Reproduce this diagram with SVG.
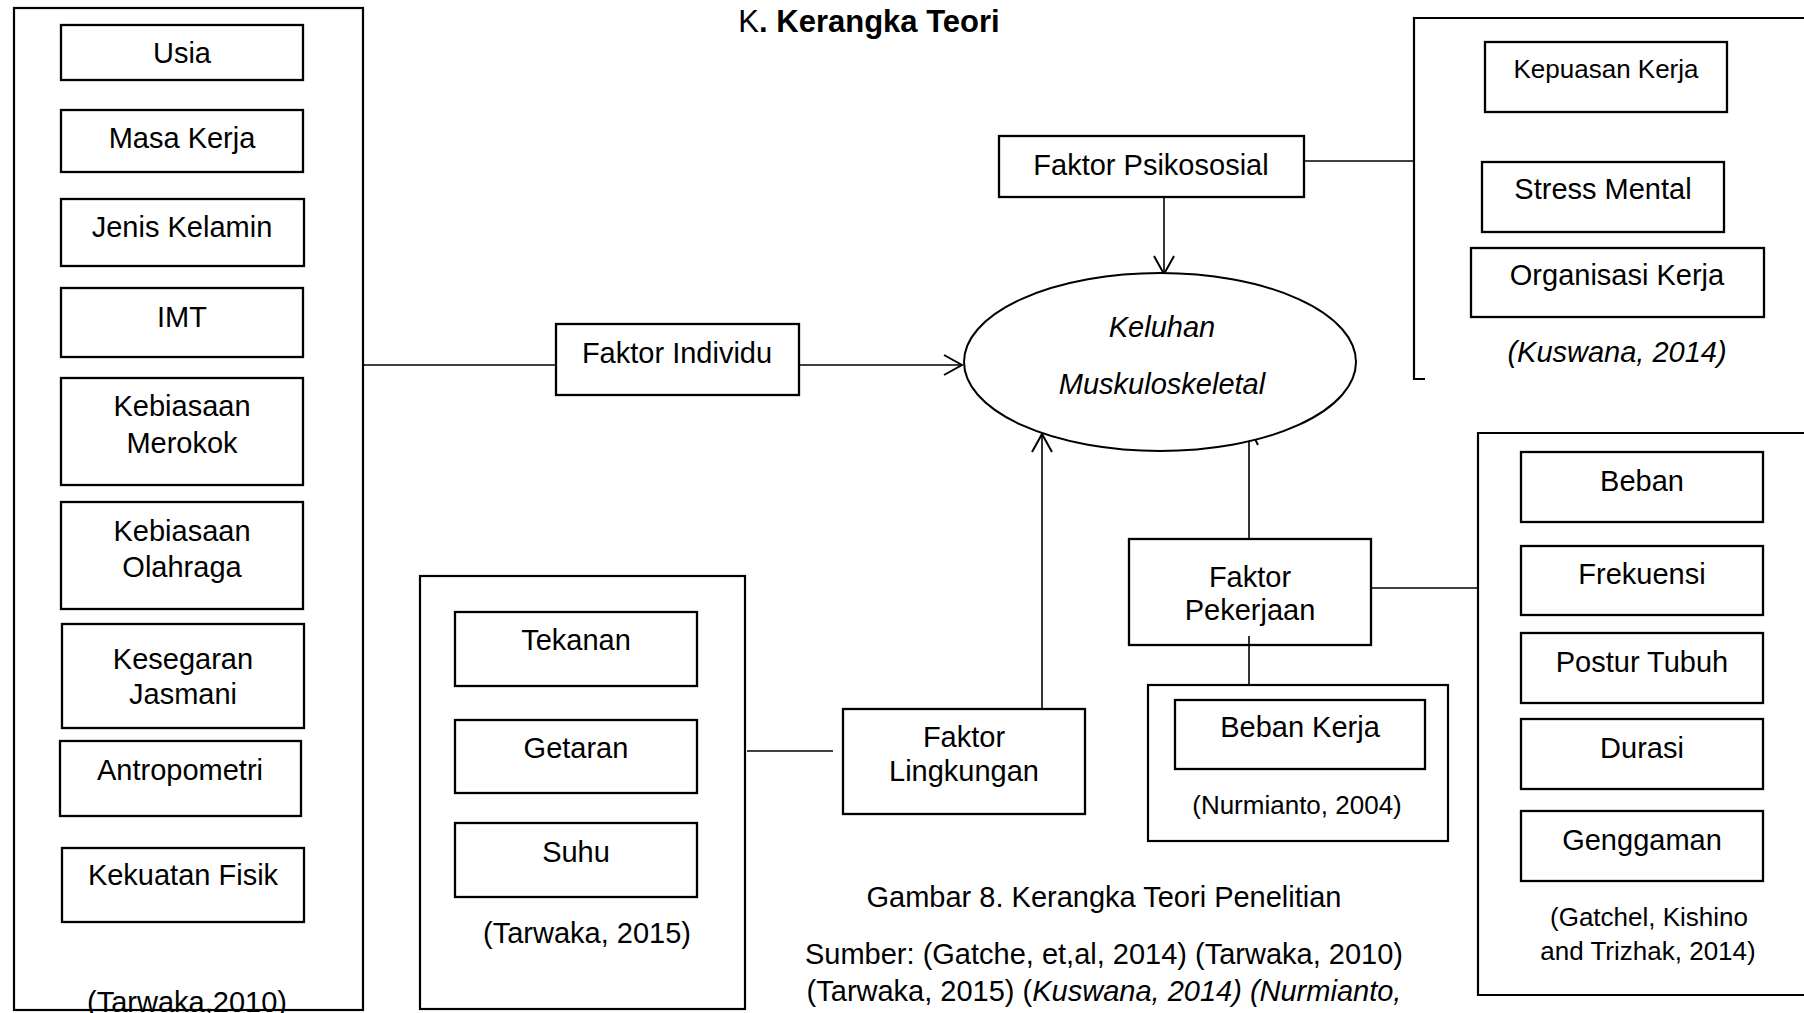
<svg xmlns="http://www.w3.org/2000/svg" width="1804" height="1013" viewBox="0 0 1804 1013">
<defs>
<style>
.bx{fill:#fff;stroke:#000;stroke-width:2.3}
.ct{fill:none;stroke:#000;stroke-width:2.2}
.ln{fill:none;stroke:#000;stroke-width:1.6}
.t{font-family:"Liberation Sans",Arial,sans-serif;font-size:29px;fill:#000;text-anchor:middle}
.s{font-size:26px}
.i{font-style:italic}
</style>
<marker id="ah" markerUnits="userSpaceOnUse" markerWidth="22" markerHeight="24" refX="20" refY="12" orient="auto">
<path d="M2,2 L20,12 L2,22" fill="none" stroke="#000" stroke-width="2"/>
</marker>
</defs>
<rect width="1804" height="1013" fill="#fff"/>
<text class="t" x="869" y="32" style="font-size:31px"><tspan>K</tspan><tspan font-weight="bold">. Kerangka Teori</tspan></text>

<g id="connectors">
<line class="ln" x1="363" y1="365" x2="556" y2="365"/>
<line class="ln" x1="799" y1="365" x2="962" y2="365" stroke-width="2.2" marker-end="url(#ah)"/>
<line class="ln" x1="1164" y1="197" x2="1164" y2="274" marker-end="url(#ah)"/>
<line class="ln" x1="1304" y1="161" x2="1414" y2="161"/>
<line class="ln" x1="1042" y1="709" x2="1042" y2="434" stroke-width="2" marker-end="url(#ah)"/>
<line class="ln" x1="747" y1="751" x2="833" y2="751"/>
<line class="ln" x1="1249" y1="539" x2="1249" y2="441" stroke-width="2"/>
<path d="M1255,439 L1258,445" fill="none" stroke="#000" stroke-width="2"/>
<line class="ln" x1="1249" y1="636" x2="1249" y2="685"/>
<line class="ln" x1="1371" y1="588" x2="1478" y2="588"/>
</g>

<g id="individu-group">
<text class="t" x="187" y="1012">(Tarwaka,2010)</text>
<rect class="ct" x="14" y="8" width="349" height="1002" fill="none"/>
</g>
<g id="usia"><rect class="bx" x="61" y="25" width="242" height="55"/><text class="t" x="182" y="63">Usia</text></g>
<g id="masa-kerja"><rect class="bx" x="61" y="110" width="242" height="62"/><text class="t" x="182" y="148">Masa Kerja</text></g>
<g id="jenis-kelamin"><rect class="bx" x="61" y="199" width="243" height="67"/><text class="t" x="182" y="237">Jenis Kelamin</text></g>
<g id="imt"><rect class="bx" x="61" y="288" width="242" height="69"/><text class="t" x="182" y="327">IMT</text></g>
<g id="merokok"><rect class="bx" x="61" y="378" width="242" height="107"/><text class="t" x="182" y="416">Kebiasaan</text><text class="t" x="182" y="453">Merokok</text></g>
<g id="olahraga"><rect class="bx" x="61" y="502" width="242" height="107"/><text class="t" x="182" y="541">Kebiasaan</text><text class="t" x="182" y="577">Olahraga</text></g>
<g id="kesegaran"><rect class="bx" x="62" y="624" width="242" height="104"/><text class="t" x="183" y="669">Kesegaran</text><text class="t" x="183" y="704">Jasmani</text></g>
<g id="antropometri"><rect class="bx" x="60" y="741" width="241" height="75"/><text class="t" x="180" y="780">Antropometri</text></g>
<g id="kekuatan"><rect class="bx" x="62" y="848" width="242" height="74"/><text class="t" x="183" y="885">Kekuatan Fisik</text></g>

<g id="faktor-individu"><rect class="bx" x="556" y="324" width="243" height="71"/><text class="t" x="677" y="363">Faktor Individu</text></g>

<g id="keluhan"><ellipse cx="1160" cy="362" rx="196" ry="89" fill="#fff" stroke="#000" stroke-width="2"/><text class="t i" x="1162" y="337">Keluhan</text><text class="t i" x="1162" y="394">Muskuloskeletal</text></g>

<g id="faktor-psikososial"><rect class="bx" x="999" y="136" width="305" height="61"/><text class="t" x="1151" y="175">Faktor Psikososial</text></g>

<g id="psikososial-group">
<path class="ct" d="M1804,18 L1414,18 L1414,379 L1425,379"/>
<text class="t i" x="1617" y="362">(Kuswana, 2014)</text>
</g>
<g id="kepuasan"><rect class="bx" x="1485" y="42" width="242" height="70"/><text class="t s" x="1606" y="78">Kepuasan Kerja</text></g>
<g id="stress"><rect class="bx" x="1482" y="162" width="242" height="70"/><text class="t" x="1603" y="199">Stress Mental</text></g>
<g id="organisasi"><rect class="bx" x="1471" y="248" width="293" height="69"/><text class="t" x="1617" y="285">Organisasi Kerja</text></g>

<g id="lingkungan-group">
<rect class="ct" x="420" y="576" width="325" height="433" fill="none"/>
<text class="t" x="587" y="943">(Tarwaka, 2015)</text>
</g>
<g id="tekanan"><rect class="bx" x="455" y="612" width="242" height="74"/><text class="t" x="576" y="650">Tekanan</text></g>
<g id="getaran"><rect class="bx" x="455" y="720" width="242" height="73"/><text class="t" x="576" y="758">Getaran</text></g>
<g id="suhu"><rect class="bx" x="455" y="823" width="242" height="74"/><text class="t" x="576" y="862">Suhu</text></g>

<g id="faktor-lingkungan"><rect class="bx" x="843" y="709" width="242" height="105"/><text class="t" x="964" y="747">Faktor</text><text class="t" x="964" y="781">Lingkungan</text></g>

<g id="faktor-pekerjaan"><rect class="bx" x="1129" y="539" width="242" height="106"/><text class="t" x="1250" y="587">Faktor</text><text class="t" x="1250" y="620">Pekerjaan</text></g>
<line class="ln" x1="1249" y1="636" x2="1249" y2="645"/>

<g id="beban-kerja-group">
<rect class="ct" x="1148" y="685" width="300" height="156" fill="none"/>
<text class="t s" x="1297" y="814">(Nurmianto, 2004)</text>
</g>
<g id="beban-kerja"><rect class="bx" x="1175" y="700" width="250" height="69"/><text class="t" x="1300" y="737">Beban Kerja</text></g>

<g id="pekerjaan-group">
<path class="ct" d="M1810,433 L1478,433 L1478,995 L1810,995"/>
<text class="t s" x="1649" y="926">(Gatchel, Kishino</text>
<text class="t s" x="1648" y="960">and Trizhak, 2014)</text>
</g>
<g id="beban"><rect class="bx" x="1521" y="452" width="242" height="70"/><text class="t" x="1642" y="491">Beban</text></g>
<g id="frekuensi"><rect class="bx" x="1521" y="546" width="242" height="69"/><text class="t" x="1642" y="584">Frekuensi</text></g>
<g id="postur"><rect class="bx" x="1521" y="633" width="242" height="70"/><text class="t" x="1642" y="672">Postur Tubuh</text></g>
<g id="durasi"><rect class="bx" x="1521" y="719" width="242" height="70"/><text class="t" x="1642" y="758">Durasi</text></g>
<g id="genggaman"><rect class="bx" x="1521" y="811" width="242" height="70"/><text class="t" x="1642" y="850">Genggaman</text></g>

<g id="caption">
<text class="t" x="1104" y="907">Gambar 8. Kerangka Teori Penelitian</text>
<text class="t" x="1104" y="964">Sumber: (Gatche, et,al, 2014) (Tarwaka, 2010)</text>
<text class="t" x="1104" y="1001">(Tarwaka, 2015) (<tspan font-style="italic">Kuswana, 2014) (Nurmianto,</tspan></text>
</g>
</svg>
